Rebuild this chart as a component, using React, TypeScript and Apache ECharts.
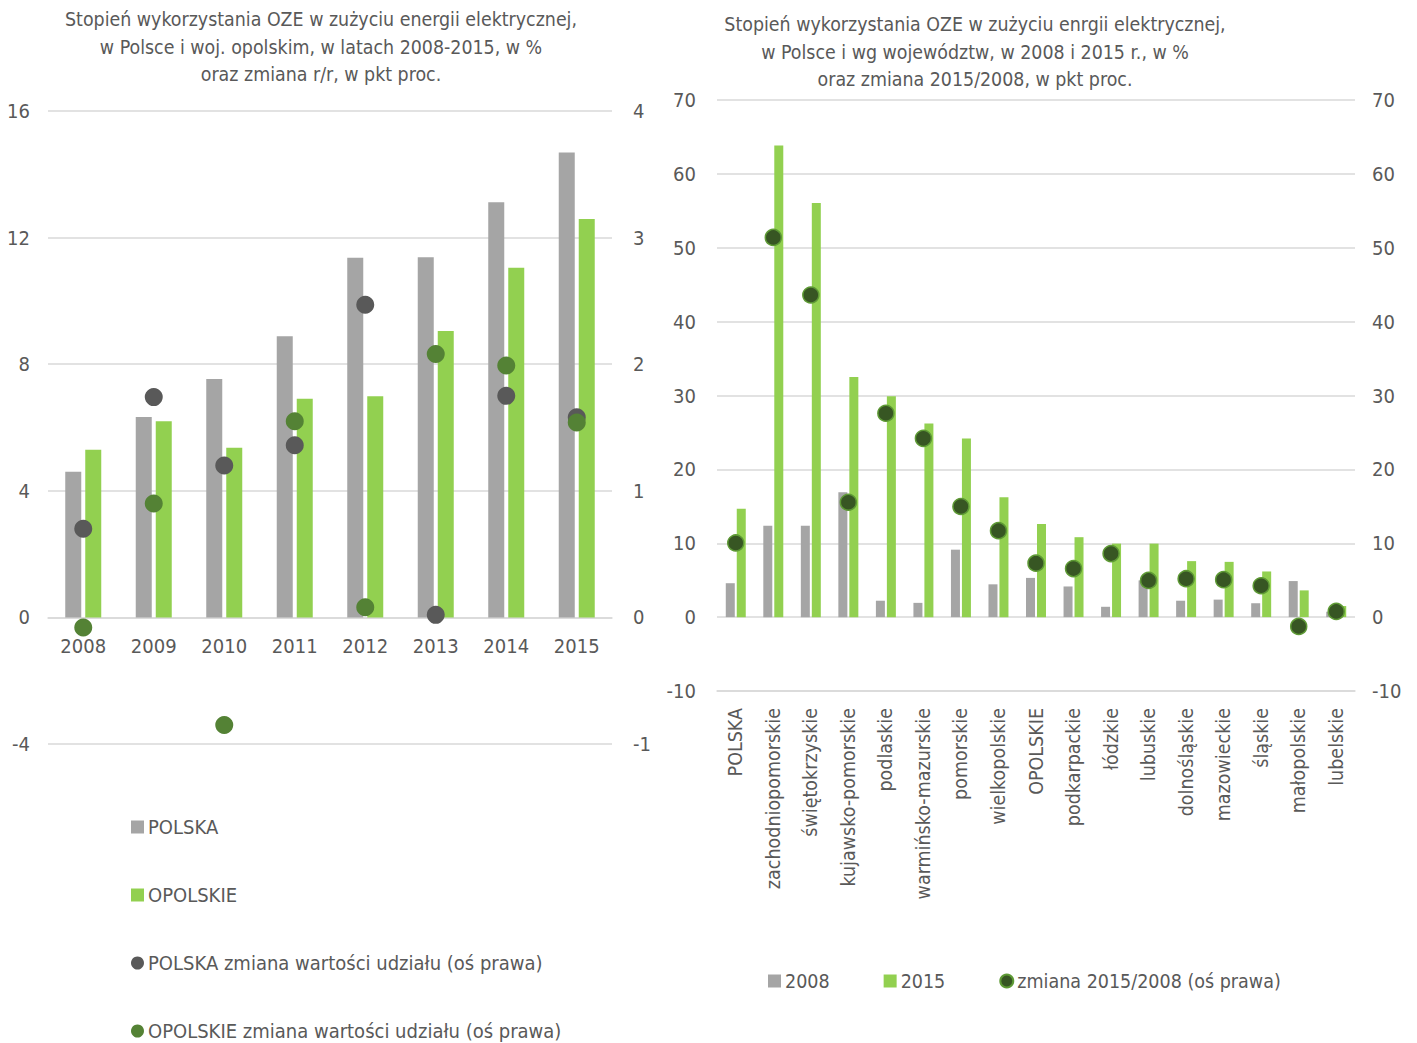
import React, { useEffect, useRef } from "react";
import * as echarts from "echarts";

const years = ["2008", "2009", "2010", "2011", "2012", "2013", "2014", "2015"];
const polskaShare = [4.6, 6.33, 7.53, 8.88, 11.36, 11.38, 13.12, 14.69];
const opolskieShare = [5.3, 6.2, 5.36, 6.91, 6.99, 9.05, 11.05, 12.59];
const polskaChange = [0.7, 1.74, 1.2, 1.36, 2.47, 0.02, 1.75, 1.58];
const opolskieChange = [-0.08, 0.9, -0.85, 1.55, 0.08, 2.08, 1.99, 1.54];

const regions = [
  "POLSKA", "zachodniopomorskie", "świętokrzyskie", "kujawsko-pomorskie", "podlaskie",
  "warmińsko-mazurskie", "pomorskie", "wielkopolskie", "OPOLSKIE", "podkarpackie",
  "łódzkie", "lubuskie", "dolnośląskie", "mazowieckie", "śląskie", "małopolskie", "lubelskie",
];
const share2008 = [4.59, 12.36, 12.36, 16.9, 2.22, 1.93, 9.13, 4.44, 5.31, 4.15, 1.4, 4.97, 2.22, 2.37, 1.88, 4.88, 0.73];
const share2015 = [14.68, 63.83, 56.06, 32.5, 29.89, 26.22, 24.19, 16.22, 12.6, 10.82, 9.95, 9.95, 7.58, 7.48, 6.18, 3.62, 1.5];
const change1508 = [10.04, 51.4, 43.6, 15.55, 27.6, 24.2, 14.97, 11.7, 7.3, 6.57, 8.6, 4.97, 5.2, 5.07, 4.25, -1.26, 0.77];

const leftTitle = "Stopień wykorzystania OZE w zużyciu energii elektrycznej,\nw Polsce i woj. opolskim, w latach 2008-2015, w %\noraz zmiana r/r, w pkt proc.";
const rightTitle = "Stopień wykorzystania OZE w zużyciu enrgii elektrycznej,\nw Polsce i wg województw, w 2008 i 2015 r., w %\noraz zmiana 2015/2008, w pkt proc.";

const FONT = "'Liberation Sans Narrow', 'DejaVu Sans Condensed', 'Arial Narrow', sans-serif";
const TXT = "#595959";
const GRIDC = "#d9d9d9";
const GRAY = "#a5a5a5";
const GREEN = "#92d050";
const DOT_GRAY = "#595959";
const DOT_GREEN = "#548235";

export default function App() {
  const ref = useRef<HTMLDivElement>(null);
  useEffect(() => {
    if (!ref.current) return;
    const chart = echarts.init(ref.current, undefined, { renderer: "svg" });
    const labelStyle = { color: TXT, fontFamily: FONT, fontSize: 20 };
    const valAxis = (grid: number, min: number, max: number, interval: number, pos: "left" | "right", split: boolean, margin: number) => ({
      type: "value",
      gridIndex: grid,
      position: pos,
      min,
      max,
      interval,
      axisLine: { show: false },
      axisTick: { show: false },
      axisLabel: { ...labelStyle, margin },
      splitLine: { show: split, lineStyle: { color: GRIDC, width: 1.5 } },
    });
    const legendItem = (name: string, left: number, top: number, icon: string) => ({
      data: [{ name, icon }],
      left,
      top,
      orient: "horizontal",
      itemWidth: 13,
      itemHeight: 13,
      itemGap: 5,
      textStyle: { color: TXT, fontFamily: FONT, fontSize: 20, padding: [0, 0, 0, -1] },
      selectedMode: false,
    });
    chart.setOption({
      animation: false,
      backgroundColor: "#ffffff",
      graphic: [
        {
          type: "text", x: 321, y: 6,
          style: { text: leftTitle, fill: TXT, font: `19.4px ${FONT}`, textAlign: "center", lineHeight: 27.5, textVerticalAlign: "top" },
        },
        {
          type: "text", x: 975, y: 11,
          style: { text: rightTitle, fill: TXT, font: `19.4px ${FONT}`, textAlign: "center", lineHeight: 27.5, textVerticalAlign: "top" },
        },
      ],
      grid: [
        { left: 48, top: 111, width: 564, height: 633 },
        { left: 717, top: 100, width: 638, height: 591 },
      ],
      xAxis: [
        {
          type: "category", gridIndex: 0, data: years, position: "bottom", offset: -126.6,
          axisLine: { onZero: false, lineStyle: { color: GRIDC, width: 1.5 } },
          axisTick: { show: false },
          axisLabel: { ...labelStyle, margin: 19 },
        },
        {
          type: "category", gridIndex: 1, data: regions,
          axisLine: { onZero: false, lineStyle: { color: GRIDC, width: 1.5 } },
          axisTick: { show: false },
          axisLabel: { ...labelStyle, fontSize: 19.5, rotate: 90, margin: 17, interval: 0 },
        },
      ],
      yAxis: [
        valAxis(0, -4, 16, 4, "left", true, 18),
        valAxis(0, -1, 4, 1, "right", false, 21),
        valAxis(1, -10, 70, 10, "left", true, 21),
        valAxis(1, -10, 70, 10, "right", false, 17),
      ],
      legend: [
        legendItem("POLSKA", 126, 812, "rect"),
        legendItem("OPOLSKIE", 126, 880, "rect"),
        legendItem("POLSKA zmiana wartości udziału (oś prawa)", 126, 948, "circle"),
        legendItem("OPOLSKIE zmiana wartości udziału (oś prawa)", 126, 1016, "circle"),
        {
          data: [
            { name: "2008", icon: "rect" },
            { name: "2015", icon: "rect" },
            { name: "zmiana 2015/2008 (oś prawa)", icon: "circle" },
          ],
          left: 763, top: 966, itemWidth: 13, itemHeight: 13, itemGap: 54,
          textStyle: { color: TXT, fontFamily: FONT, fontSize: 19.5, padding: [0, 0, 0, -1] },
          selectedMode: false,
        },
      ],
      series: [
        { name: "POLSKA", type: "bar", xAxisIndex: 0, yAxisIndex: 0, data: polskaShare, barWidth: 16, barGap: "25%", itemStyle: { color: GRAY } },
        { name: "OPOLSKIE", type: "bar", xAxisIndex: 0, yAxisIndex: 0, data: opolskieShare, barWidth: 16, barGap: "25%", itemStyle: { color: GREEN } },
        { name: "POLSKA zmiana wartości udziału (oś prawa)", type: "scatter", xAxisIndex: 0, yAxisIndex: 1, data: polskaChange, symbolSize: 18, itemStyle: { color: DOT_GRAY, opacity: 1 }, z: 5 },
        { name: "OPOLSKIE zmiana wartości udziału (oś prawa)", type: "scatter", xAxisIndex: 0, yAxisIndex: 1, data: opolskieChange, symbolSize: 18, itemStyle: { color: DOT_GREEN, opacity: 1 }, z: 6 },
        { name: "2008", type: "bar", xAxisIndex: 1, yAxisIndex: 2, data: share2008, barWidth: 9, barGap: "22%", itemStyle: { color: GRAY } },
        { name: "2015", type: "bar", xAxisIndex: 1, yAxisIndex: 2, data: share2015, barWidth: 9, barGap: "22%", itemStyle: { color: GREEN } },
        { name: "zmiana 2015/2008 (oś prawa)", type: "scatter", xAxisIndex: 1, yAxisIndex: 3, data: change1508, symbolSize: 16, itemStyle: { color: "#375623", borderColor: "#5e9a35", borderWidth: 1.5, opacity: 1 }, z: 5 },
      ],
    });
    return () => chart.dispose();
  }, []);
  return <div ref={ref} style={{ position: "absolute", left: 0, top: 0, width: 1417, height: 1043 }} />;
}
